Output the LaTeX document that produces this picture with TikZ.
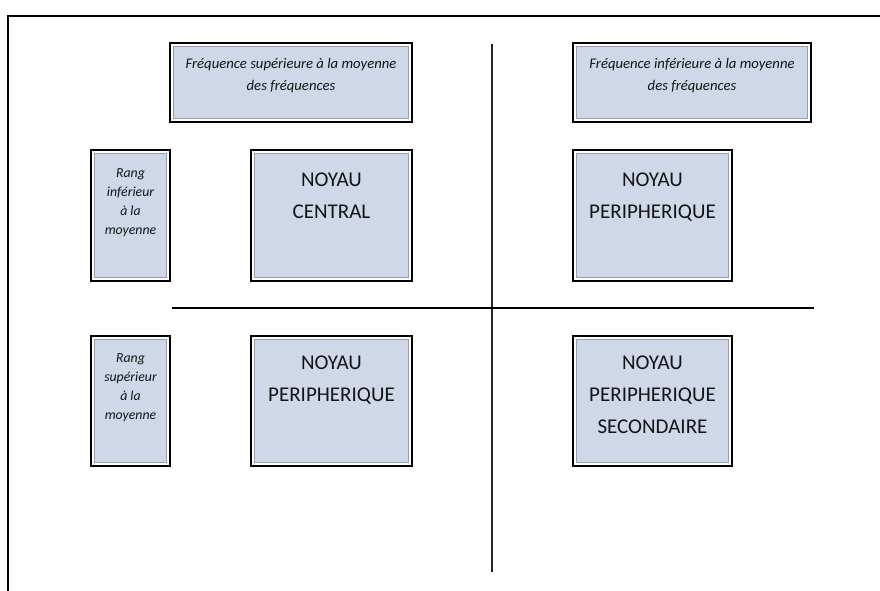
\documentclass[tikz,border=0pt]{standalone}
\usepackage{fontspec}
\setmainfont{Carlito}
\usetikzlibrary{shadows}
\definecolor{boxfill}{RGB}{206,216,233}
\definecolor{innerline}{RGB}{150,158,172}
\newcommand\topst{\rule{0pt}{1em}}
\begin{document}
\begin{tikzpicture}[x=1pt,y=-1pt,
  qbox/.style={draw=black, line width=2.2pt, fill=white, inner sep=0pt,
    drop shadow={shadow xshift=0.9pt, shadow yshift=-0.9pt, opacity=1, fill=black},
    path picture={\draw[innerline, line width=1.2pt, fill=boxfill]
      ([shift={(3.2pt,-3.2pt)}]path picture bounding box.north west) rectangle
      ([shift={(-3.2pt,3.2pt)}]path picture bounding box.south east);}},
  hdrtxt/.style={font={\fontsize{14.7}{22}\selectfont\itshape}, align=center, inner sep=0pt, anchor=north, text=black!92},
  rangtxt/.style={font={\fontsize{13.8}{19}\selectfont\itshape}, align=center, inner sep=0pt, anchor=north, text=black!92},
  noytxt/.style={font={\fontsize{21}{32}\selectfont}, align=center, inner sep=0pt, anchor=north, text=black!92},
  rule/.style={line width=1.8pt, black!85}]
\useasboundingbox (0,0) rectangle (880,590);
\fill[white] (0,0) rectangle (880,590);
% frame
\coordinate (fTR) at (884,16);
\coordinate (fTL) at (8,16);
\coordinate (fBL) at (8,594);
\draw[line width=1.8pt] (fTR) -- (fTL) -- (fBL);
% axes
\coordinate (vT) at (492,44);
\coordinate (vB) at (492,572);
\coordinate (hL) at (172,308);
\coordinate (hR) at (814,308);
\draw[rule] (vT) -- (vB);
\draw[rule, black] (hL) -- (hR);
% header boxes
\node[qbox, minimum width=241.8pt, minimum height=78.8pt] (hA) at (291,82.5) {};
\node[qbox, minimum width=237.8pt, minimum height=78.8pt] (hB) at (692,82.5) {};
% left rank boxes
\node[qbox, minimum width=78.8pt, minimum height=130.8pt] (rA) at (130.5,215.5) {};
\node[qbox, minimum width=78.8pt, minimum height=129.8pt] (rB) at (130.5,401) {};
% core boxes
\node[qbox, minimum width=160.8pt, minimum height=130.8pt] (nc) at (331.5,215.5) {};
\node[qbox, minimum width=158.8pt, minimum height=130.8pt] (np1) at (652.5,215.5) {};
\node[qbox, minimum width=160.8pt, minimum height=129.8pt] (np2) at (331.5,401) {};
\node[qbox, minimum width=158.8pt, minimum height=129.8pt] (nps) at (652.5,401) {};
% texts
\node[hdrtxt] (hAt) at (291,53.5) {\topst Fréquence supérieure à la moyenne\\des fréquences};
\node[hdrtxt] (hBt) at (692,53.5) {\topst Fréquence inférieure à la moyenne\\des fréquences};
\node[rangtxt] (rAt) at (130.5,163) {\topst Rang\\inférieur\\à la\\moyenne};
\node[rangtxt] (rBt) at (130.5,348) {\topst Rang\\supérieur\\à la\\moyenne};
\node[noytxt] (nct) at (331.5,165) {\topst NOYAU\\CENTRAL};
\node[noytxt] (np1t) at (652.5,165) {\topst NOYAU\\PERIPHERIQUE};
\node[noytxt] (np2t) at (331.5,348) {\topst NOYAU\\PERIPHERIQUE};
\node[noytxt] (npst) at (652.5,348) {\topst NOYAU\\PERIPHERIQUE\\SECONDAIRE};
\end{tikzpicture}
\end{document}
